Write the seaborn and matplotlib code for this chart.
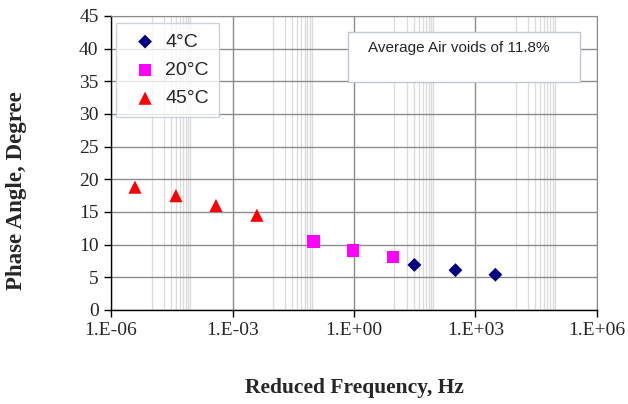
import numpy as np
import pandas as pd
import seaborn as sns
import matplotlib.pyplot as plt
from matplotlib.patches import Rectangle
from matplotlib.ticker import FixedLocator, NullFormatter

# data
freq_4c = [31, 320, 3100]
phase_4c = [6.9, 6.1, 5.4]
freq_20c = [0.1, 0.95, 9.3]
phase_20c = [10.5, 9.1, 8.1]
freq_45c = [3.9e-6, 4.0e-5, 3.9e-4, 4.0e-3]
phase_45c = [18.8, 17.5, 16.0, 14.5]
temps = ["4°C", "20°C", "45°C"]
x_ticks = [1e-6, 1e-3, 1e0, 1e3, 1e6]
x_labels = ["1.E-06", "1.E-03", "1.E+00", "1.E+03", "1.E+06"]
y_ticks = list(range(0, 50, 5))

df = pd.concat([
    pd.DataFrame({"freq": freq_4c, "phase": phase_4c, "temp": "4°C"}),
    pd.DataFrame({"freq": freq_20c, "phase": phase_20c, "temp": "20°C"}),
    pd.DataFrame({"freq": freq_45c, "phase": phase_45c, "temp": "45°C"}),
])

sns.set_style("white")
plt.rcParams["font.family"] = ["Liberation Serif", "DejaVu Serif"]

fig = plt.figure(figsize=(6.28, 4.04), dpi=100)
ax = fig.add_axes([0.1768, 0.2327, 0.7738, 0.7277])

colors = {"4°C": "#000080", "20°C": "#ff00ff", "45°C": "#ff0000"}
markers = {"4°C": "D", "20°C": "s", "45°C": "^"}
sizes = {"4°C": 50, "20°C": 80, "45°C": 90}

for t in temps:
    sub = df[df["temp"] == t]
    sns.scatterplot(data=sub, x="freq", y="phase", color=colors[t], marker=markers[t],
                    s=sizes[t], edgecolor="none", ax=ax, label=t, zorder=3)

ax.set_xscale("log")
ax.set_xlim(1e-6, 1e6)
ax.set_ylim(0, 45)

# minor gridlines like excel: k*10^(major+1) for k = 1..9
minors = []
for m in x_ticks[:-1]:
    minors += [k * m * 10 for k in range(1, 10)]
ax.xaxis.set_major_locator(FixedLocator(x_ticks))
ax.xaxis.set_minor_locator(FixedLocator(minors))
ax.xaxis.set_minor_formatter(NullFormatter())
ax.set_xticklabels(x_labels)
ax.set_yticks(y_ticks)

ax.grid(True, which="major", color="#8c8c8c", lw=1.0, zorder=1)
ax.grid(True, which="minor", axis="x", color="#dcdcdc", lw=1.0, zorder=0)
ax.set_axisbelow(True)

for side in ["left", "bottom"]:
    ax.spines[side].set_color("black")
    ax.spines[side].set_linewidth(1.0)
for side in ["top", "right"]:
    ax.spines[side].set_color("#8c8c8c")

ax.tick_params(axis="both", which="major", direction="out", length=5, width=1,
               labelsize=14, color="black", bottom=True, left=True, pad=4)
ax.tick_params(axis="x", which="minor", length=0)

ax.set_xlabel("Reduced Frequency, Hz", fontsize=15.5, fontweight="bold", labelpad=28)
ax.set_ylabel("Phase Angle, Degree", fontsize=16.5, fontweight="bold")
ax.yaxis.set_label_coords(-0.172, 0.405)

leg = ax.legend(loc="upper left", bbox_to_anchor=(0.01, 0.975), frameon=True, fancybox=False,
                prop={"family": "Liberation Sans", "size": 14}, handletextpad=0.05,
                borderpad=0.5, labelspacing=0.55, handlelength=2.0, borderaxespad=0)
leg.get_frame().set_edgecolor("#c0c8d8")
leg.get_frame().set_linewidth(1.0)

ax.add_patch(Rectangle((0.488, 0.776), 0.477, 0.170, transform=ax.transAxes,
                       fc="white", ec="#c0c8d8", lw=1.0, zorder=5))
ax.text(0.529, 0.891, "Average Air voids of 11.8%", transform=ax.transAxes,
        fontsize=11, family="Liberation Sans", va="center", ha="left", zorder=6)

fig.savefig("out.png", dpi=100)
